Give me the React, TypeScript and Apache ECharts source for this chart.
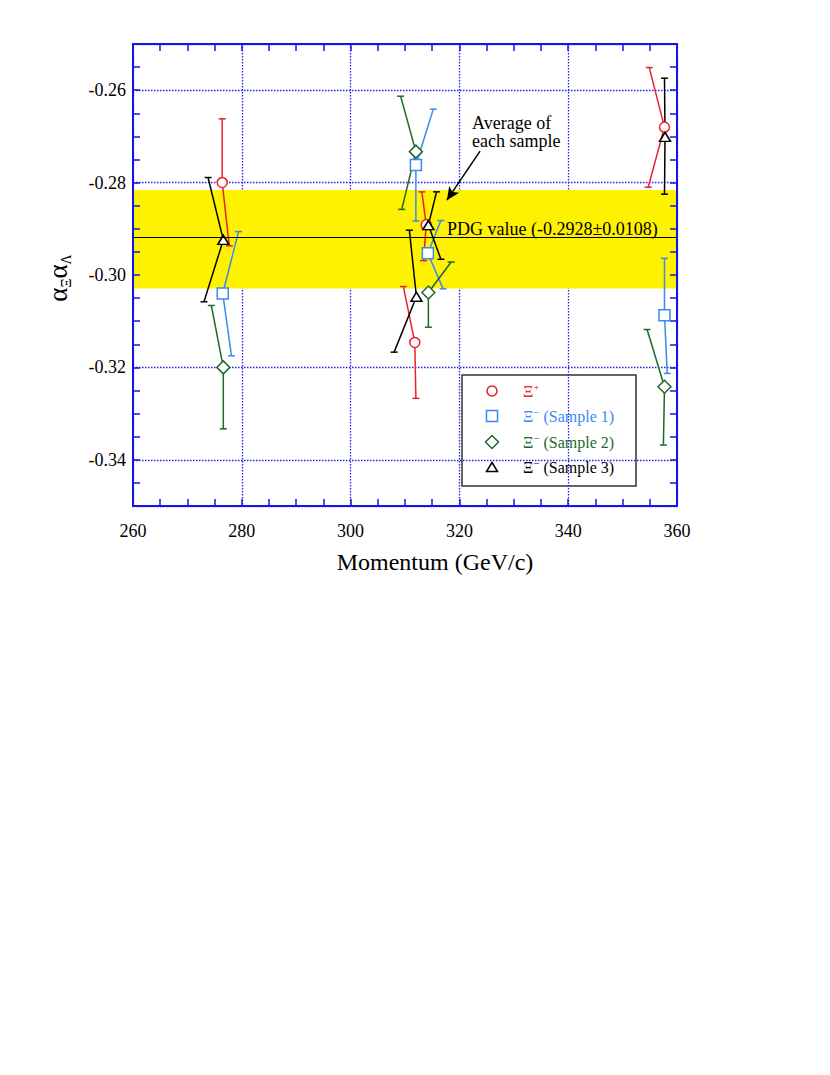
import React, { useEffect, useRef } from 'react';
import * as echarts from 'echarts';

// ---------- data ----------
const xMin = 260;
const xMax = 360;
const yMin = -0.35;
const yMax = -0.25;

// PDG value -0.2928 ± 0.0108, as drawn in the figure
const pdgBandTop = -0.2816;
const pdgBandBottom = -0.3029;
const pdgLine = -0.2919;

// Ξ+ (red circles)
const redX = [276.4, 311.8, 313.9, 357.7];
const redY = [-0.2800, -0.3146, -0.2891, -0.2680];
const redUpX = [276.4, 309.7, 313.1, 354.9];
const redUpY = [-0.2662, -0.3025, -0.2820, -0.2551];
const redLoX = [277.7, 312.0, 313.4, 354.7];
const redLoY = [-0.2937, -0.3267, -0.2969, -0.2810];

// Ξ− sample 1 (blue squares)
const blueX = [276.5, 312.0, 314.2, 357.7];
const blueY = [-0.3040, -0.2762, -0.2953, -0.3087];
const blueUpX = [279.4, 315.2, 316.6, 357.7];
const blueUpY = [-0.2906, -0.2641, -0.2882, -0.2964];
const blueLoX = [278.1, 312.0, 317.0, 358.2];
const blueLoY = [-0.3175, -0.2883, -0.3030, -0.3213];

// Ξ− sample 2 (green diamonds)
const greenX = [276.6, 312.0, 314.3, 357.7];
const greenY = [-0.3200, -0.2733, -0.3038, -0.3242];
const greenUpX = [274.4, 309.2, 318.5, 354.5];
const greenUpY = [-0.3066, -0.2613, -0.2972, -0.3118];
const greenLoX = [276.6, 309.4, 314.3, 357.5];
const greenLoY = [-0.3333, -0.2858, -0.3113, -0.3368];

// Ξ− sample 3 (black triangles)
const blackX = [276.6, 312.1, 314.3, 357.8];
const blackY = [-0.2924, -0.3047, -0.2892, -0.2701];
const blackUpX = [273.8, 310.8, 315.8, 357.7];
const blackUpY = [-0.2789, -0.2903, -0.2820, -0.2574];
const blackLoX = [273.05, 308.0, 316.6, 357.7];
const blackLoY = [-0.3058, -0.3167, -0.2966, -0.2825];

// annotation arrow (data coords)
const arrowFrom = [323.8, -0.2732];
const arrowTo = [317.7, -0.2838];

const legendLabels = ['Ξ+', 'Ξ− (Sample 1)', 'Ξ− (Sample 2)', 'Ξ− (Sample 3)'];

// ---------- styles ----------
const FONT = 'Liberation Serif, Times New Roman, serif';
const AX = '#1414e6';
const GRID = '#2020f0';
const YELLOW = '#fff200';
const RED = '#e8212b';
const BLUE = '#3c89f4';
const GREEN = '#1d6a2c';
const BLACK = '#000000';

const seriesDefs = [
  { name: legendLabels[0], color: RED, symbol: 'circle', size: 10, xs: redX, ys: redY, ux: redUpX, uy: redUpY, lx: redLoX, ly: redLoY },
  { name: legendLabels[1], color: BLUE, symbol: 'rect', size: 11, xs: blueX, ys: blueY, ux: blueUpX, uy: blueUpY, lx: blueLoX, ly: blueLoY },
  { name: legendLabels[2], color: GREEN, symbol: 'diamond', size: 13, xs: greenX, ys: greenY, ux: greenUpX, uy: greenUpY, lx: greenLoX, ly: greenLoY },
  { name: legendLabels[3], color: BLACK, symbol: 'triangle', size: [11, 9], xs: blackX, ys: blackY, ux: blackUpX, uy: blackUpY, lx: blackLoX, ly: blackLoY },
];

function errRenderer(color: string) {
  return (params: any, api: any) => {
    const p = api.coord([api.value(0), api.value(1)]);
    const u = api.coord([api.value(2), api.value(3)]);
    const l = api.coord([api.value(4), api.value(5)]);
    const cw = 3.5;
    const st = { stroke: color, lineWidth: 1.5 };
    return {
      type: 'group',
      children: [
        { type: 'line', shape: { x1: p[0], y1: p[1], x2: u[0], y2: u[1] }, style: st },
        { type: 'line', shape: { x1: u[0] - cw, y1: u[1], x2: u[0] + cw, y2: u[1] }, style: st },
        { type: 'line', shape: { x1: p[0], y1: p[1], x2: l[0], y2: l[1] }, style: st },
        { type: 'line', shape: { x1: l[0] - cw, y1: l[1], x2: l[0] + cw, y2: l[1] }, style: st },
      ],
    };
  };
}

const tickStyle = { color: AX, width: 1.5 };

export default function App() {
  const ref = useRef<HTMLDivElement>(null);

  useEffect(() => {
    if (!ref.current) return;
    const chart = echarts.init(ref.current, undefined, { renderer: 'svg' });

    const gridRect = { left: 133, top: 44, width: 544, height: 462 };

    const errSeries = seriesDefs.map((s) => ({
      type: 'custom',
      name: s.name + ' err',
      xAxisIndex: 0,
      yAxisIndex: 0,
      z: 2,
      silent: true,
      renderItem: errRenderer(s.color),
      encode: { x: [0, 2, 4], y: [1, 3, 5] },
      data: s.xs.map((x, i) => [x, s.ys[i], s.ux[i], s.uy[i], s.lx[i], s.ly[i]]),
    }));

    const markerSeries = seriesDefs.map((s) => ({
      type: 'scatter',
      name: s.name,
      xAxisIndex: 0,
      yAxisIndex: 0,
      z: 3,
      symbol: s.symbol,
      symbolSize: s.size,
      itemStyle: { color: '#ffffff', borderColor: s.color, borderWidth: 1.5, opacity: 1 },
      data: s.xs.map((x, i) => [x, s.ys[i]]),
    }));

    const legendRows = [391, 416, 442, 467];
    const symX = 492;
    const txtX = 523;
    const mkLegendText = (i: number, color: string, sup: string, rest: string) => ({
      type: 'text',
      x: txtX,
      y: legendRows[i],
      style: {
        text: '{a|Ξ}{s|' + sup + '}' + (rest ? '{a| ' + rest + '}' : ''),
        fill: color,
        fontFamily: FONT,
        verticalAlign: 'middle',
        rich: {
          a: { fontFamily: FONT, fontSize: 16, fill: color, lineHeight: 20 },
          s: { fontFamily: FONT, fontSize: 11, fill: color, verticalAlign: 'top', lineHeight: 8 },
        },
      },
    });

    const labelStyle = { color: '#000', fontFamily: FONT, fontSize: 18 };

    const option: any = {
      animation: false,
      textStyle: { fontFamily: FONT },
      grid: [gridRect, gridRect],
      xAxis: [
        {
          gridIndex: 0,
          type: 'value',
          position: 'bottom',
          min: xMin,
          max: xMax,
          interval: 20,
          z: 1,
          axisLine: { lineStyle: { color: AX, width: 2 } },
          axisTick: { inside: true, length: 7, lineStyle: tickStyle },
          minorTick: { show: true, splitNumber: 4, length: 7, lineStyle: tickStyle },
          splitLine: { show: true, lineStyle: { color: GRID, type: [1.5, 1.5], width: 1.3 } },
          axisLabel: { ...labelStyle, margin: 16 },
          name: 'Momentum (GeV/c)',
          nameLocation: 'middle',
          nameGap: 44,
          nameTextStyle: { color: '#000', fontFamily: FONT, fontSize: 24, padding: [0, 0, 0, 60] },
        },
        {
          gridIndex: 0,
          type: 'value',
          position: 'top',
          min: xMin,
          max: xMax,
          interval: 20,
          z: 1,
          axisLine: { lineStyle: { color: AX, width: 2 } },
          axisTick: { inside: true, length: 7, lineStyle: tickStyle },
          minorTick: { show: true, splitNumber: 4, length: 7, lineStyle: tickStyle },
          splitLine: { show: false },
          axisLabel: { show: false },
        },
        { gridIndex: 1, type: 'value', min: xMin, max: xMax, show: false },
      ],
      yAxis: [
        {
          gridIndex: 0,
          type: 'value',
          position: 'left',
          min: yMin,
          max: yMax,
          splitNumber: 5,
          z: 1,
          axisLine: { lineStyle: { color: AX, width: 2 } },
          axisTick: { show: false },
          splitLine: { show: true, lineStyle: { color: GRID, type: [1.5, 1.5], width: 1.3 } },
          axisLabel: {
            ...labelStyle,
            margin: 7,
            showMinLabel: false,
            showMaxLabel: false,
            formatter: (v: number) => v.toFixed(2),
          },
        },
        {
          gridIndex: 0,
          type: 'value',
          position: 'right',
          min: yMin,
          max: yMax,
          interval: 0.005,
          z: 1,
          axisLine: { lineStyle: { color: AX, width: 2 } },
          axisTick: { inside: true, length: 7, lineStyle: tickStyle },
          splitLine: { show: false },
          axisLabel: { show: false },
        },
        {
          gridIndex: 1,
          type: 'value',
          position: 'left',
          min: yMin,
          max: yMax,
          interval: 0.005,
          z: 1,
          axisLine: { lineStyle: { color: AX, width: 2 } },
          axisTick: { inside: true, length: 7, lineStyle: tickStyle },
          splitLine: { show: false },
          axisLabel: { show: false },
        },
      ],
      series: [
        {
          type: 'line',
          name: 'PDG band',
          xAxisIndex: 0,
          yAxisIndex: 0,
          z: 0,
          data: [],
          silent: true,
          markArea: {
            silent: true,
            precision: 6,
            itemStyle: { color: YELLOW, opacity: 1 },
            data: [[{ yAxis: pdgBandTop }, { yAxis: pdgBandBottom }]],
          },
          markLine: {
            silent: true,
            precision: 6,
            symbol: ['none', 'none'],
            label: { show: false },
            lineStyle: { color: '#000', width: 1.2, type: 'solid' },
            data: [{ yAxis: pdgLine }],
          },
        },
        ...errSeries,
        ...markerSeries,
        {
          type: 'line',
          name: 'arrow',
          xAxisIndex: 0,
          yAxisIndex: 0,
          z: 4,
          data: [],
          silent: true,
          markLine: {
            silent: true,
            precision: 6,
            symbol: ['none', 'arrow'],
            symbolSize: [9, 13],
            label: { show: false },
            lineStyle: { color: '#000', width: 1.5, type: 'solid' },
            itemStyle: { color: '#000' },
            data: [[{ coord: arrowFrom }, { coord: arrowTo }]],
          },
        },
      ],
      graphic: [
        {
          type: 'text',
          x: 447,
          y: 229,
          z: 5,
          style: { text: 'PDG value (-0.2928±0.0108)', fontFamily: FONT, fontSize: 18, fill: '#000', verticalAlign: 'middle' },
        },
        {
          type: 'text',
          x: 472,
          y: 114,
          z: 5,
          style: { text: 'Average of\neach sample', fontFamily: FONT, fontSize: 18, lineHeight: 18, fill: '#000', verticalAlign: 'top' },
        },
        {
          type: 'text',
          x: 58,
          y: 278,
          rotation: Math.PI / 2,
          z: 5,
          style: {
            text: '{a|α}{s|Ξ}{a|α}{s|Λ}',
            align: 'center',
            verticalAlign: 'middle',
            fill: '#000',
            fontFamily: FONT,
            rich: {
              a: { fontFamily: FONT, fontSize: 27, fill: '#000', lineHeight: 30 },
              s: { fontFamily: FONT, fontSize: 14, fill: '#000', lineHeight: 14, verticalAlign: 'bottom' },
            },
          },
        },
        {
          type: 'group',
          z: 100,
          children: [
            {
              type: 'rect',
              shape: { x: 462, y: 375, width: 174, height: 111 },
              style: { fill: '#ffffff', stroke: '#333333', lineWidth: 1.5 },
            },
            {
              type: 'circle',
              shape: { cx: symX, cy: legendRows[0], r: 5 },
              style: { fill: '#fff', stroke: RED, lineWidth: 1.5 },
            },
            {
              type: 'rect',
              shape: { x: symX - 5.5, y: legendRows[1] - 5.5, width: 11, height: 11 },
              style: { fill: '#fff', stroke: BLUE, lineWidth: 1.5 },
            },
            {
              type: 'polygon',
              shape: { points: [[symX, legendRows[2] - 6.5], [symX + 6.5, legendRows[2]], [symX, legendRows[2] + 6.5], [symX - 6.5, legendRows[2]]] },
              style: { fill: '#fff', stroke: GREEN, lineWidth: 1.5 },
            },
            {
              type: 'polygon',
              shape: { points: [[symX, legendRows[3] - 4.5], [symX + 5.5, legendRows[3] + 4.5], [symX - 5.5, legendRows[3] + 4.5]] },
              style: { fill: '#fff', stroke: BLACK, lineWidth: 1.5 },
            },
            mkLegendText(0, RED, '+', ''),
            mkLegendText(1, BLUE, '−', '(Sample 1)'),
            mkLegendText(2, GREEN, '−', '(Sample 2)'),
            mkLegendText(3, BLACK, '−', '(Sample 3)'),
          ],
        },
      ],
    };

    chart.setOption(option);
    return () => {
      chart.dispose();
    };
  }, []);

  return (
    <div
      ref={ref}
      style={{ position: 'fixed', left: 0, top: 0, width: 830, height: 1075, background: '#fff' }}
    />
  );
}
